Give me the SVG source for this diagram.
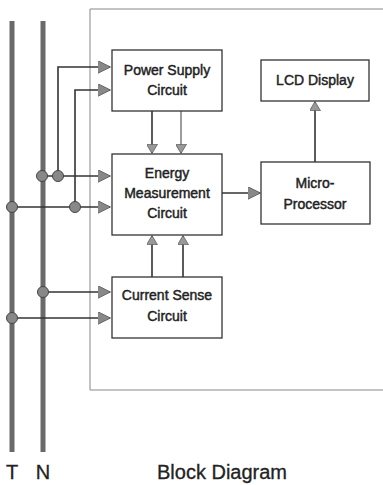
<svg xmlns="http://www.w3.org/2000/svg" width="383" height="485" viewBox="0 0 383 485">
<defs>
<style>
.box{fill:#fff;stroke:#333;stroke-width:1.3}
.lbl{font-family:"Liberation Sans",Arial,sans-serif;font-size:14px;fill:#222;stroke:#222;stroke-width:0.45;text-anchor:middle}
.big{font-family:"Liberation Sans",Arial,sans-serif;font-size:20px;fill:#222;stroke:#222;stroke-width:0.3;text-anchor:middle}
.wire{fill:none;stroke:#333;stroke-width:1.6}
.wire2{fill:none;stroke:#666;stroke-width:1.3}
.bus{fill:none;stroke:#6a6a6a;stroke-width:5}
.dot{fill:#888;stroke:#444;stroke-width:1}
</style>
<marker id="ah" viewBox="0 0 13 13" refX="12.5" refY="6.5" markerWidth="13" markerHeight="13" markerUnits="userSpaceOnUse" orient="auto">
<path d="M0,0 L13,6.5 L0,13 Z" fill="#888" stroke="#555" stroke-width="0.8"/>
</marker>
<marker id="ahs" viewBox="0 0 10 12" refX="9.5" refY="6" markerWidth="10" markerHeight="11" markerUnits="userSpaceOnUse" orient="auto">
<path d="M0,0 L10,6 L0,12 Z" fill="#999" stroke="#555" stroke-width="0.8"/>
</marker>
</defs>
<rect width="383" height="485" fill="#fff"/>
<path id="frame" d="M395,9 H90 V390 H395" fill="none" stroke="#888" stroke-width="1"/>
<g id="T">
<line class="bus" x1="12" y1="21" x2="12" y2="452"/>
<text class="big" x="12" y="479">T</text>
</g>
<g id="N">
<line class="bus" x1="43" y1="21" x2="43" y2="452"/>
<text class="big" x="43" y="479">N</text>
</g>
<g id="connectors">
<path class="wire" d="M58,176 V67 H110" marker-end="url(#ah)"/>
<path class="wire" d="M75,207 V90 H110" marker-end="url(#ah)"/>
<path class="wire" d="M43,176 H110" marker-end="url(#ah)"/>
<path class="wire" d="M12,207 H110" marker-end="url(#ah)"/>
<path class="wire" d="M43,292 H110" marker-end="url(#ah)"/>
<path class="wire" d="M12,318 H110" marker-end="url(#ah)"/>
<path class="wire" d="M152,111 V153" marker-end="url(#ahs)"/>
<path class="wire2" d="M181,111 V153" marker-end="url(#ahs)"/>
<path class="wire" d="M152,277 V236" marker-end="url(#ahs)"/>
<path class="wire" d="M183,277 V236" marker-end="url(#ahs)"/>
<path class="wire" d="M222,193 H260" marker-end="url(#ah)"/>
<path class="wire" d="M315,162 V102" marker-end="url(#ahs)"/>
<circle class="dot" cx="58" cy="176" r="5.5"/>
<circle class="dot" cx="75" cy="207" r="5.5"/>
<circle class="dot" cx="42" cy="176" r="5.5"/>
<circle class="dot" cx="12" cy="207" r="5.5"/>
<circle class="dot" cx="43" cy="292" r="5.5"/>
<circle class="dot" cx="12" cy="318" r="5.5"/>
</g>
<g id="power">
<rect class="box" x="112" y="50" width="110" height="61"/>
<text class="lbl" x="167" y="75">Power Supply</text>
<text class="lbl" x="167" y="95">Circuit</text>
</g>
<g id="energy">
<rect class="box" x="112" y="154" width="110" height="81"/>
<text class="lbl" x="167" y="178">Energy</text>
<text class="lbl" x="167" y="198">Measurement</text>
<text class="lbl" x="167" y="218">Circuit</text>
</g>
<g id="current">
<rect class="box" x="112" y="277" width="110" height="61"/>
<text class="lbl" x="167" y="300">Current Sense</text>
<text class="lbl" x="167" y="321">Circuit</text>
</g>
<g id="lcd">
<rect class="box" x="261" y="60" width="108" height="41"/>
<text class="lbl" x="315" y="85">LCD Display</text>
</g>
<g id="micro">
<rect class="box" x="261" y="162" width="109" height="62"/>
<text class="lbl" x="315" y="188">Micro-</text>
<text class="lbl" x="315" y="209">Processor</text>
</g>
<text id="title" class="big" x="222" y="479">Block Diagram</text>
</svg>
